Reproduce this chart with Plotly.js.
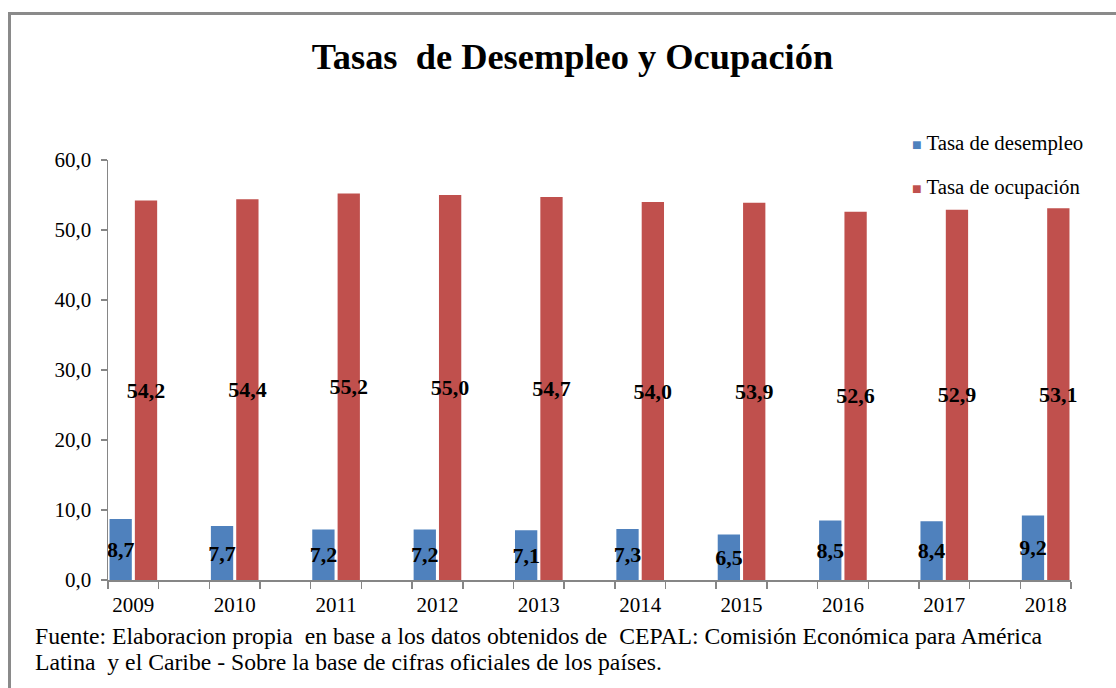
<!DOCTYPE html>
<html>
<head>
<meta charset="utf-8">
<script src="https://cdn.plot.ly/plotly-3.0.1.min.js"></script>
<style>
  html, body { margin: 0; padding: 0; background: #fff; }
  #frame { position: absolute; left: 8px; top: 12px; width: 1120px; height: 700px;
           border-left: 3px solid #8a8a8a; border-top: 3px solid #8a8a8a; box-sizing: border-box; pointer-events: none; z-index: 5; }
  #chart { position: absolute; left: 0; top: 0; width: 1116px; height: 688px; }
</style>
</head>
<body>
<div id="chart"></div>
<div id="frame"></div>
<script>
const years = ['2009','2010','2011','2012','2013','2014','2015','2016','2017','2018'];
const desempleo = [8.7, 7.7, 7.2, 7.2, 7.1, 7.3, 6.5, 8.5, 8.4, 9.2];
const ocupacion = [54.2, 54.4, 55.2, 55.0, 54.7, 54.0, 53.9, 52.6, 52.9, 53.1];
const yTicks = [0, 10, 20, 30, 40, 50, 60];
const seriesNames = ['Tasa de desempleo', 'Tasa de ocupación'];
const seriesColors = ['#4F81BD', '#C0504D'];
const footerLines = [
  'Fuente: Elaboracion propia  en base a los datos obtenidos de  CEPAL: Comisión Económica para América',
  'Latina  y el Caribe - Sobre la base de cifras oficiales de los países.'
];

const serif = '"Liberation Serif", "Times New Roman", serif';
const xpos = years.map((_, i) => i * 2);

const labelFont = { family: serif, size: 22, color: '#000', weight: 'bold' };

const seriesValues = [desempleo, ocupacion];
const traces = seriesValues.map((vals, k) => ({
  type: 'bar', name: seriesNames[k], x: xpos, y: vals,
  marker: { color: seriesColors[k] },
  texttemplate: '<b>%{y:.1f}</b>', textposition: 'inside', insidetextanchor: 'middle',
  textangle: 0, constraintext: 'none', insidetextfont: labelFont,
  cliponaxis: false, showlegend: false, hoverinfo: 'none'
}));

// legend built as annotations (compact symbol spacing like the original)
const legendY = [1.0405, 0.9357];
const legendAnn = seriesNames.map((n, k) => ({
  xref: 'paper', yref: 'paper', x: 0.8329, y: legendY[k], xanchor: 'left', yanchor: 'middle',
  showarrow: false, align: 'left',
  text: '<span style="color:' + seriesColors[k] + ';font-size:16px">■</span> ' + n,
  font: { family: serif, size: 20.8, color: '#000' }
}));

const footerY = [-0.1333, -0.1952];
const footerAnn = footerLines.map((t, k) => ({
  xref: 'paper', yref: 'paper', x: -0.0778, y: footerY[k], xanchor: 'left', yanchor: 'middle',
  align: 'left', showarrow: false, text: t,
  font: { family: serif, size: 23.7, color: '#000' }
}));

const layout = {
  width: 1116, height: 688, autosize: false,
  margin: { l: 108, r: 45, t: 160, b: 108 },
  paper_bgcolor: '#fff', plot_bgcolor: '#fff',
  separators: ',.',
  barmode: 'group', bargap: 0.5, bargroupgap: 0.12,
  font: { family: serif, color: '#000' },
  title: {
    text: '<b>Tasas  de Desempleo y Ocupación</b>',
    font: { family: serif, size: 36.4, color: '#000' },
    x: 0.513, xanchor: 'center', y: 0.918, yanchor: 'middle'
  },
  xaxis: {
    range: [-0.5, (years.length - 1) * 2 + 0.5],
    tickmode: 'array', tickvals: xpos, ticktext: years,
    ticks: '', showgrid: false, zeroline: false,
    showline: true, linecolor: '#868686', linewidth: 1.5,
    tickfont: { family: serif, size: 21, color: '#000' },
    ticklabelstandoff: 5,
    minor: { tickmode: 'linear', tick0: -0.5, dtick: 1, ticks: 'outside', ticklen: 7, tickcolor: '#868686', tickwidth: 1.5, showgrid: false },
    fixedrange: true
  },
  yaxis: {
    range: [0, 60], tickmode: 'array', tickvals: yTicks, tickformat: '.1f',
    ticks: 'outside', ticklen: 6, tickcolor: '#868686', tickwidth: 1.5,
    showgrid: false, zeroline: false,
    showline: true, linecolor: '#868686', linewidth: 1.5,
    tickfont: { family: serif, size: 21, color: '#000' },
    ticklabelstandoff: 5,
    fixedrange: true
  },
  showlegend: false,
  annotations: legendAnn.concat(footerAnn)
};

Plotly.newPlot('chart', traces, layout, { displayModeBar: false, staticPlot: true });
</script>
</body>
</html>
